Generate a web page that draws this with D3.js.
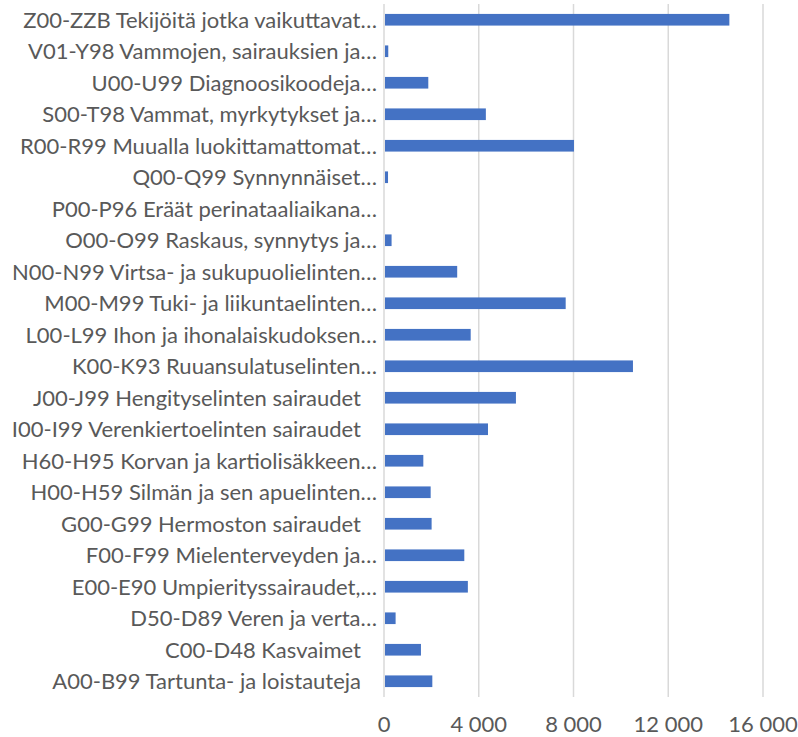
<!DOCTYPE html>
<html>
<head>
<meta charset="utf-8">
<script src="https://cdn.jsdelivr.net/npm/d3@7"></script>
<style>
  body { margin: 0; background: #fff; }
  text { font-family: Lato, "Open Sans", sans-serif; }
</style>
</head>
<body>
<svg id="chart" width="798" height="737"></svg>
<script>
// categories, top to bottom as shown
let categories = [
  "Z00-ZZB Tekijöitä jotka vaikuttavat…",
  "V01-Y98 Vammojen, sairauksien ja…",
  "U00-U99 Diagnoosikoodeja…",
  "S00-T98 Vammat, myrkytykset ja…",
  "R00-R99 Muualla luokittamattomat…",
  "Q00-Q99 Synnynnäiset…",
  "P00-P96 Eräät perinataaliaikana…",
  "O00-O99 Raskaus, synnytys ja…",
  "N00-N99 Virtsa- ja sukupuolielinten…",
  "M00-M99 Tuki- ja liikuntaelinten…",
  "L00-L99 Ihon ja ihonalaiskudoksen…",
  "K00-K93 Ruuansulatuselinten…",
  "J00-J99 Hengityselinten sairaudet ",
  "I00-I99 Verenkiertoelinten sairaudet ",
  "H60-H95 Korvan ja kartiolisäkkeen…",
  "H00-H59 Silmän ja sen apuelinten…",
  "G00-G99 Hermoston sairaudet ",
  "F00-F99 Mielenterveyden ja…",
  "E00-E90 Umpierityssairaudet,…",
  "D50-D89 Veren ja verta…",
  "C00-D48 Kasvaimet ",
  "A00-B99 Tartunta- ja loistauteja "
];

let values = [14580, 180, 1870, 4300, 8020, 170, 10, 320, 3090, 7670, 3660, 10510,
              5570, 4390, 1660, 1970, 2010, 3390, 3540, 490, 1560, 2040];

let tickValues = [0, 4000, 8000, 12000, 16000];

let barColor = "#4472C4";
let gridColor = "#d9d9d9";
let textColor = "#595959";

let svg = d3.select("#chart");
let margin = {top: 4, right: 35, bottom: 40, left: 384};
let width = 798 - margin.left - margin.right;
let height = 737 - margin.top - margin.bottom;

let g = svg.append("g")
  .attr("transform", `translate(${margin.left},${margin.top})`);

let x = d3.scaleLinear()
  .domain([0, 16000])
  .range([0, width]);

let y = d3.scaleBand()
  .domain(categories)
  .range([0, height])
  .paddingInner(0.63)
  .paddingOuter(0.315);

// gridlines
g.selectAll(".grid")
  .data(tickValues)
  .enter()
  .append("line")
  .attr("class", "grid")
  .attr("x1", d => x(d))
  .attr("x2", d => x(d))
  .attr("y1", 0)
  .attr("y2", height)
  .style("stroke", gridColor)
  .style("stroke-width", 1.5);

// bars
g.selectAll(".bar")
  .data(values)
  .enter()
  .append("rect")
  .attr("class", "bar")
  .attr("x", x(0) + 1)
  .attr("y", (d, i) => y(categories[i]))
  .attr("width", d => Math.max(0, x(d) - x(0) - 1))
  .attr("height", y.bandwidth())
  .style("fill", barColor);

// category labels (trailing space in excel pushes text left a bit)
g.selectAll(".cat")
  .data(categories)
  .enter()
  .append("text")
  .attr("class", "cat")
  .attr("x", d => d.endsWith(" ") ? -23 : -7)
  .attr("y", d => y(d) + y.bandwidth() / 2)
  .attr("dy", "0.36em")
  .attr("text-anchor", "end")
  .style("font-size", "22px")
  .style("fill", textColor)
  .text(d => d.trim());

// x axis labels
let fmt = d => d3.format(",")(d).replace(/,/g, " ");
g.selectAll(".tick-label")
  .data(tickValues)
  .enter()
  .append("text")
  .attr("class", "tick-label")
  .attr("x", d => x(d))
  .attr("y", height + 35)
  .attr("text-anchor", "middle")
  .style("font-size", "22px")
  .style("fill", textColor)
  .text(fmt);
</script>
</body>
</html>
